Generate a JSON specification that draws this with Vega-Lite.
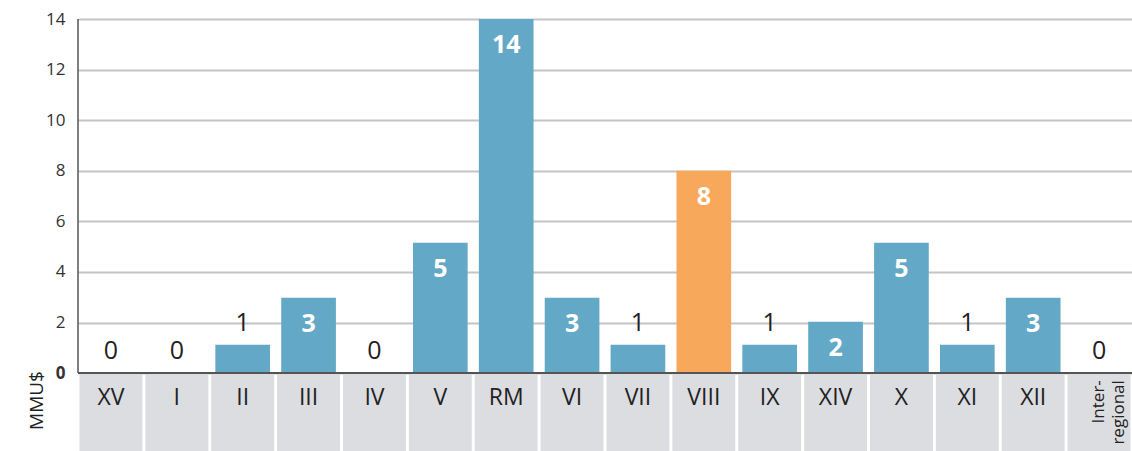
{
  "$schema": "https://vega.github.io/schema/vega-lite/v6.json",
  "width": 1054,
  "height": 432,
  "autosize": {"type": "none"},
  "padding": {"left": 78, "top": 19, "right": 0, "bottom": 0},
  "config": {"view": {"stroke": null}, "font": "Open Sans"},
  "data": {
    "values": [
      {"cat": "XV", "value": 0},
      {"cat": "I", "value": 0},
      {"cat": "II", "value": 1.12},
      {"cat": "III", "value": 2.98},
      {"cat": "IV", "value": 0},
      {"cat": "V", "value": 5.15},
      {"cat": "RM", "value": 14},
      {"cat": "VI", "value": 2.98},
      {"cat": "VII", "value": 1.12},
      {"cat": "VIII", "value": 8},
      {"cat": "IX", "value": 1.12},
      {"cat": "XIV", "value": 2.03},
      {"cat": "X", "value": 5.15},
      {"cat": "XI", "value": 1.12},
      {"cat": "XII", "value": 2.98},
      {"cat": "Inter-\nregional", "value": 0}
    ]
  },
  "layer": [
    {
      "mark": {"type": "bar", "width": {"band": 0.955}, "color": "#dcdde0"},
      "encoding": {
        "x": {"field": "cat", "type": "nominal", "sort": null, "scale": {"paddingInner": 0, "paddingOuter": 0}, "axis": null},
        "y": {
          "datum": 0,
          "type": "quantitative",
          "scale": {"domain": [-3.08, 14], "nice": false, "zero": false},
          "axis": {
            "values": [0, 2, 4, 6, 8, 10, 12, 14],
            "grid": true,
            "gridColor": "#c4c4c7",
            "gridWidth": 1.8,
            "domain": false,
            "ticks": false,
            "labelPadding": 13,
            "labelFontSize": 17,
            "labelColor": "#333333",
            "labelFontWeight": {"condition": {"test": "datum.value === 0", "value": "bold"}, "value": "normal"},
            "title": "MMU$",
            "titleFontSize": 19,
            "titleFontWeight": "normal",
            "titleColor": "#222222",
            "titleAngle": -90,
            "titleAlign": "center",
            "titleBaseline": "middle",
            "titleX": -42,
            "titleY": 381
          }
        },
        "y2": {"datum": -3.2}
      }
    },
    {
      "mark": {"type": "bar", "width": {"band": 0.83}},
      "encoding": {
        "x": {"field": "cat", "type": "nominal", "sort": null},
        "y": {"field": "value", "type": "quantitative"},
        "y2": {"datum": 0},
        "color": {"condition": {"test": "datum.cat === 'VIII'", "value": "#f8a85b"}, "value": "#63a8c6"}
      }
    },
    {
      "transform": [{"filter": "datum.cat === 'XV'"}],
      "mark": {"type": "rule", "color": "#555555", "strokeWidth": 1.5},
      "encoding": {
        "x": {"field": "cat", "type": "nominal", "sort": null, "bandPosition": 0},
        "y": {"datum": 0, "type": "quantitative"},
        "y2": {"datum": 14}
      }
    },
    {
      "transform": [{"filter": "datum.cat === 'XV'"}],
      "mark": {"type": "rule", "color": "#555555", "strokeWidth": 2},
      "encoding": {
        "y": {"datum": 0, "type": "quantitative"}
      }
    },
    {
      "transform": [{"filter": "datum.value >= 1.5"}],
      "mark": {"type": "text", "baseline": "middle", "dy": 26, "fontSize": 25, "fontWeight": "bold", "color": "#ffffff"},
      "encoding": {
        "x": {"field": "cat", "type": "nominal", "sort": null},
        "y": {"field": "value", "type": "quantitative"},
        "text": {"field": "value", "type": "quantitative", "format": ".0f"}
      }
    },
    {
      "transform": [{"filter": "datum.value < 1.5"}],
      "mark": {"type": "text", "baseline": "middle", "dy": -22, "fontSize": 25, "color": "#222222"},
      "encoding": {
        "x": {"field": "cat", "type": "nominal", "sort": null},
        "y": {"field": "value", "type": "quantitative"},
        "text": {"field": "value", "type": "quantitative", "format": ".0f"}
      }
    },
    {
      "transform": [{"filter": "indexof(datum.cat, 'regional') < 0"}],
      "mark": {"type": "text", "baseline": "middle", "fontSize": 23, "color": "#222222"},
      "encoding": {
        "x": {"field": "cat", "type": "nominal", "sort": null},
        "y": {"datum": -0.97, "type": "quantitative"},
        "text": {"field": "cat", "type": "nominal"}
      }
    },
    {
      "transform": [{"filter": "indexof(datum.cat, 'regional') >= 0"}],
      "mark": {"type": "text", "baseline": "middle", "align": "right", "angle": 270, "fontSize": 17, "lineHeight": 20, "lineBreak": "\n", "color": "#222222"},
      "encoding": {
        "x": {"field": "cat", "type": "nominal", "sort": null},
        "y": {"datum": -0.28, "type": "quantitative"},
        "text": {"field": "cat", "type": "nominal"}
      }
    }
  ]
}
